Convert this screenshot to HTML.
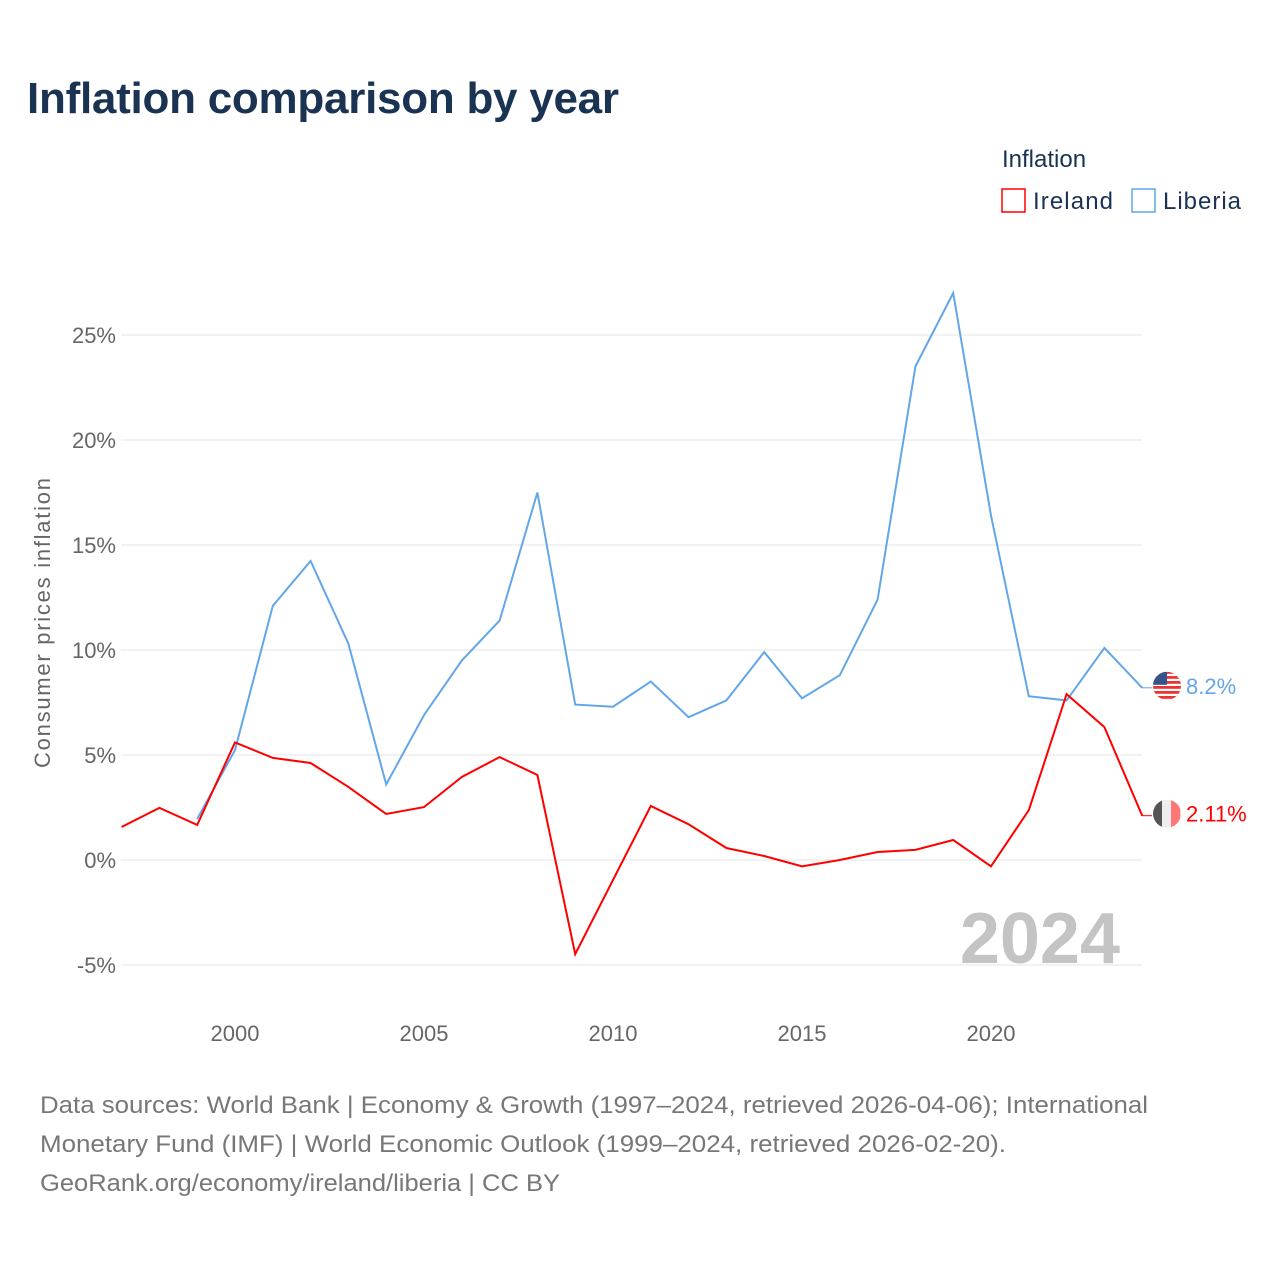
<!DOCTYPE html>
<html><head><meta charset="utf-8"><style>
body{margin:0;background:#fff;font-family:"Liberation Sans",sans-serif}
#wrap{position:relative;width:1280px;height:1280px;overflow:hidden}
</style></head><body>
<div id="wrap">
<svg id="chart" width="1280" height="1280"></svg>
</div>
<script>
const years=[1997,1998,1999,2000,2001,2002,2003,2004,2005,2006,2007,2008,2009,2010,2011,2012,2013,2014,2015,2016,2017,2018,2019,2020,2021,2022,2023,2024];
const ireland=[1.57,2.48,1.67,5.6,4.86,4.62,3.48,2.19,2.52,3.95,4.9,4.05,-4.48,-0.95,2.57,1.7,0.57,0.19,-0.3,0,0.38,0.48,0.95,-0.3,2.37,7.9,6.33,2.11];
const liberia=[null,null,1.95,5.24,12.1,14.24,10.3,3.6,6.9,9.5,11.4,17.5,7.4,7.3,8.5,6.8,7.6,9.9,7.7,8.8,12.4,23.5,27.0,16.4,7.8,7.6,10.1,8.2];
const yTicks=[-5,0,5,10,15,20,25];
const xTicks=[2000,2005,2010,2015,2020];
const NS="http://www.w3.org/2000/svg";
const svg=document.getElementById('chart');
const x=v=>235+(v-2000)*37.8;
const y=v=>860-v*21;
function el(t,a,txt,parent){const e=document.createElementNS(NS,t);for(const k in a)e.setAttribute(k,a[k]);if(txt!==undefined)e.textContent=txt;(parent||svg).appendChild(e);return e;}
let e;
const defs=el('defs',{});
const lastL=liberia[liberia.length-1],lastI=ireland[ireland.length-1];
const cp1=el('clipPath',{id:'fl'},undefined,defs);el('circle',{cx:1167,cy:y(lastL)-2,r:14},undefined,cp1);
const cp2=el('clipPath',{id:'fc'},undefined,defs);el('circle',{cx:1167,cy:y(lastI)-2,r:14},undefined,cp2);
e=el('text',{x:27,y:113,'font-size':44,'font-weight':'bold',fill:'#1b3353',textLength:592},'Inflation comparison by year');


yTicks.forEach(t=>{
 e=el('line',{x1:121,x2:1142,y1:y(t),y2:y(t),stroke:'#e6e6e6','stroke-width':1});
 
 
 e=el('text',{x:116,y:y(t)+8,'font-size':22,fill:'#666','text-anchor':'end'},t+'%');
 
 
});
xTicks.forEach(t=>{
 e=el('text',{x:x(t),y:1041,'font-size':22,fill:'#666','text-anchor':'middle'},t);
 
 
});
e=el('text',{x:50,y:623,'font-size':22,fill:'#666','text-anchor':'middle',transform:'rotate(-90 50 623)',textLength:290},'Consumer prices inflation');


e=el('text',{x:1120,y:963,'font-size':72,'font-weight':'bold',fill:'#c4c4c4','text-anchor':'end'},'2024');


function path(vals){let d='';vals.forEach((v,i)=>{if(v===null)return;d+=(d?'L':'M')+x(years[i]).toFixed(1)+','+y(v).toFixed(1);});return d;}
e=el('path',{d:path(liberia),fill:'none',stroke:'#63a6e8','stroke-width':2});


e=el('path',{d:path(ireland),fill:'none',stroke:'#f00','stroke-width':2});


e=el('line',{x1:1142,x2:1152,y1:y(lastL),y2:y(lastL),stroke:'#63a6e8'});


const fy=y(lastL)-2;
const g=el('g',{'clip-path':'url(#fl)'});


el('rect',{x:1153,y:fy-14,width:28,height:28,fill:'#e33'},undefined,g);
for(let k=0;k<6;k++){el('rect',{x:1153,y:fy-12+k*5,width:28,height:2.2,fill:'#fff'},undefined,g);}
el('rect',{x:1153,y:fy-14,width:14,height:13,fill:'#35558a'},undefined,g);
e=el('text',{x:1186,y:y(lastL)+6,'font-size':22,fill:'#63a6e8'},lastL.toFixed(1)+'%');


e=el('line',{x1:1142,x2:1152,y1:y(lastI),y2:y(lastI),stroke:'#f00'});


const cy=y(lastI)-2;
[['#555',1153],['#eee',1162],['#f77',1171]].forEach(([c,xx])=>{e=el('rect',{x:xx,y:cy-14,width:9.4,height:28,fill:c,'clip-path':'url(#fc)'});});
e=el('text',{x:1186,y:cy+8,'font-size':22,fill:'#f00'},lastI.toFixed(2)+'%');


e=el('text',{x:1002,y:167,'font-size':24,fill:'#1b3353'},'Inflation');


e=el('rect',{x:1002,y:189,width:23,height:23,fill:'none',stroke:'#f00','stroke-width':1.5});


e=el('text',{x:1033,y:209,'font-size':24,fill:'#1b3353',textLength:80},'Ireland');


e=el('rect',{x:1132,y:189,width:23,height:23,fill:'none',stroke:'#63a6e8','stroke-width':1.5});


e=el('text',{x:1163,y:209,'font-size':24,fill:'#1b3353',textLength:78},'Liberia');


const src=['Data sources: World Bank | Economy & Growth (1997–2024, retrieved 2026-04-06); International','Monetary Fund (IMF) | World Economic Outlook (1999–2024, retrieved 2026-02-20).','GeoRank.org/economy/ireland/liberia | CC BY'];
const srcLen=[1108,966,520];
src.forEach((s,i)=>{
 e=el('text',{x:40,y:1113+i*39,'font-size':24,fill:'#777',textLength:srcLen[i],lengthAdjust:'spacingAndGlyphs'},s);
 
 
});
</script>
</body></html>
